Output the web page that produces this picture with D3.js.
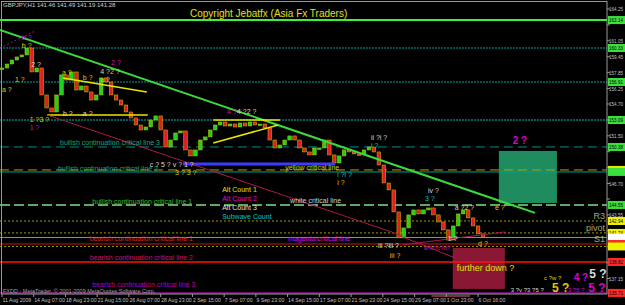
<!DOCTYPE html>
<html>
<head>
<meta charset="utf-8">
<script src="https://cdn.jsdelivr.net/npm/d3@7/dist/d3.min.js"></script>
<style>
  body { margin: 0; background: #000; }
  svg { display: block; }
</style>
</head>
<body>
<div id="chart"></div>
<script>
// GBPJPY H1 - sampled closes, one every 10 bars
var closes = [158.32, 158.72, 159.12, 159.43, 159.63, 160.33, 157.92, 158.32, 155.61, 154.30,
  153.90, 155.61, 157.62, 157.11, 157.92, 156.11, 156.51, 155.91, 155.10, 155.61,
  157.32, 156.91, 155.61, 155.10, 154.60, 153.90, 153.30, 152.59, 152.09, 152.39,
  153.09, 153.50, 152.09, 150.38, 151.08, 151.79, 151.99, 150.08, 149.48, 150.08,
  151.08, 151.39, 152.09, 152.59, 152.89, 152.49, 152.69, 152.39, 152.79, 152.49,
  152.89, 152.59, 152.69, 152.29, 151.08, 150.28, 150.58, 151.08, 151.49, 151.08,
  150.28, 149.88, 149.58, 150.28, 150.28, 151.08, 149.58, 148.77, 149.48, 150.08,
  149.88, 149.68, 149.58, 150.08, 150.38, 149.88, 148.57, 146.76, 146.06, 143.85,
  141.24, 142.24, 143.55, 144.05, 143.65, 144.05, 144.25, 143.55, 142.84, 142.04,
  141.03, 142.44, 143.65, 144.05, 143.25, 142.44, 141.64, 141.28];
var barStep = 10;

var dateLabels = ["11 Aug 2009", "14 Aug 07:00", "18 Aug 23:00", "21 Aug 15:00", "26 Aug 07:00",
  "28 Aug 23:00", "2 Sep 15:00", "7 Sep 07:00", "9 Sep 23:00", "14 Sep 15:00", "17 Sep 07:00",
  "21 Sep 23:00", "24 Sep 15:00", "29 Sep 07:00", "1 Oct 23:00", "6 Oct 16:00"];

var priceTicks = ["164.25", "162.65", "161.05", "159.45", "157.85", "156.25", "154.70", "153.10",
  "151.50", "149.90", "148.30", "146.70", "145.15", "143.55", "141.95", "140.35", "138.75", "137.15"];

// horizontal levels
var levelPrices = [163.14, 160.33, 156.91, 153.09, 150.38, 148.07, 147.87, 144.55,
  142.94, 141.74, 141.28, 140.63, 140.38, 138.82, 135.71];
var levelKinds = ["lime", "tealDot", "tealDot", "tealDotDark", "tealDash", "oliveDash", "teal", "greenDash",
  "oliveDot", "oliveDot", "price", "redThin", "oliveDot", "red", "purple"];

// trend lines: [bar1, price1, bar2, price2, kind]
var trendLines = [
  [0, 162.14, 1079, 143.75, "green"],
  [127, 157.32, 296, 155.91, "yellow"],
  [95, 153.60, 298, 153.60, "yellow"],
  [430, 153.09, 565, 153.09, "yellow"],
  [430, 150.78, 561, 152.59, "yellow"],
  [369, 148.67, 676, 148.67, "blue"],
  [95, 153.60, 807, 141.54, "maroon"],
  [0, 160.33, 71, 162.04, "purpleDot"],
  [811, 140.53, 1018, 141.84, "maroon"],
  [807, 141.44, 918, 139.22, "maroon"]
];

// target boxes: [bar1, bar2, priceTop, priceBottom]
var boxes = [[1006, 1123, 149.98, 144.75], [913, 1018, 140.23, 136.11]];

// line captions: [bar, price, text, colour]
var captions = [
  [121, 150.58, "bullish continuation critical line 3", "#1fa37a"],
  [117, 147.97, "bullish continuation critical line 2", "#22a070"],
  [186, 144.65, "bullish continuation critical line 1", "#2cc02c"],
  [181, 140.93, "bearish continuation critical line 1", "#e02424"],
  [181, 139.02, "bearish continuation critical line 2", "#d0107a"],
  [186, 136.31, "bearish continuation critical line 3", "#b800b0"],
  [575, 148.07, "yellow critical line", "#c0d000"],
  [585, 144.75, "white critical line", "#d0d0d0"],
  [581, 140.93, "magenta critical line", "#e000e0"],
  [448, 145.86, "Alt Count 1", "#e0e000"],
  [448, 144.95, "Alt Count 2", "#e000e0"],
  [448, 144.05, "Alt Count 3", "#e0e0e0"],
  [448, 143.14, "Subwave Count", "#00c0c0"],
  [921, 137.92, "further down ?", "#e0e000"]
];

// wave count labels: [bar, price, text, colour, size]
var waves = [
  [44, 161.13, "b ?", "m", 1], [44, 160.33, "b ?", "y", 1], [63, 158.42, "2 ?", "w", 1],
  [30, 156.91, "1 ?", "y", 1], [4, 155.91, "a ?", "y", 1], [125, 157.62, "a ?", "y", 1],
  [167, 157.11, "b ?", "y", 1], [202, 157.72, "4 ?", "w", 1], [222, 157.72, "2 ?", "y", 1],
  [224, 158.62, "2 ?", "m", 1], [202, 156.91, "a ?", "y", 1], [60, 152.89, "1 ?3 ?", "y", 1],
  [60, 152.09, "1 ?", "m", 1], [127, 153.50, "b ?", "w", 1], [167, 153.50, "a ?", "w", 1],
  [302, 148.37, "c ? 5 ? v ? 1 ?", "w", 1], [353, 147.57, "3 ? 3 ?", "y", 1],
  [458, 153.70, "4 ?", "m", 1], [478, 153.70, "4 ?2 ?", "w", 1],
  [748, 151.08, "ii ?i ?", "w", 1], [748, 150.28, "i ?", "t", 1],
  [680, 147.37, "i ?i ?", "t", 1], [680, 146.56, "i ?", "y", 1],
  [863, 145.76, "iv ?", "w", 1], [857, 144.95, "3 ?", "t", 1],
  [917, 144.05, "a ?2 ?", "w", 1], [998, 144.05, "e ?", "y", 1],
  [903, 140.93, "1 ?", "w", 1], [964, 140.43, "d ?", "y", 1], [855, 140.03, "a?b?c?d?", "m", 0],
  [762, 140.23, "iii ?iii ?", "w", 1], [786, 139.22, "iii ?", "y", 1],
  [1034, 150.68, "2 ?", "m", 2],
  [1030, 135.81, "3 ?v ?3 ?5 ?", "w", 0], [1097, 137.01, "c ?w ?", "y", 0],
  [1113, 135.81, "5 ?", "y", 3], [1145, 135.81, "3 ?5 ?", "m", 0], [1186, 135.81, "5 ?", "m", 3],
  [1157, 136.91, "4 ?", "m", 2], [1188, 137.21, "5 ?", "w", 3]
];

var pivotNames = ["R3", "pivot", "S1"];
var pivotPrices = [142.94, 141.74, 140.63];

// ---- layout / styles ----
var width = 625, height = 305;
var plotRight = 607, plotBottom = 294;

var levelStyle = {
  lime:        {c: "#3cf03c", w: 2,   d: null,  tag: "#3ce03c"},
  tealDot:     {c: "#00a0a0", w: 1,   d: "2,1", tag: "#3ce03c"},
  tealDotDark: {c: "#007a7a", w: 1.5, d: "2,1", tag: "#3ce03c"},
  tealDash:    {c: "#008c8c", w: 1,   d: "9,5", tag: "#3ce03c"},
  oliveDash:   {c: "#a8a800", w: 1,   d: "9,5", tag: "#e8e800"},
  teal:        {c: "#00a0a0", w: 1,   d: null,  tag: "#3ce03c"},
  greenDash:   {c: "#80e080", w: 1.5, d: "10,4", tag: "#3ce03c"},
  oliveDot:    {c: "#9a9a00", w: 1,   d: "2,2", tag: "#f0f000"},
  price:       {c: "#8890a0", w: 1,   d: null,  tag: "#ffffff"},
  redThin:     {c: "#c81818", w: 1,   d: null,  tag: "#ff2a2a"},
  red:         {c: "#ff1010", w: 1.5, d: null,  tag: "#ff2a2a"},
  purple:      {c: "#8a108a", w: 1.5, d: null,  tag: "#ff2a2a"}
};
var trendStyle = {
  green:     {c: "#3cd83c", w: 2,   d: null},
  yellow:    {c: "#e8e800", w: 1.5, d: null},
  blue:      {c: "#3c3cff", w: 3,   d: null},
  maroon:    {c: "#b01848", w: 1,   d: null},
  purpleDot: {c: "#b000b0", w: 1,   d: "2,2"}
};
var waveColor = {w: "#d8d8d8", y: "#e0c800", m: "#d800d8", t: "#00c0c0"};
var waveSize = {0: 6, 1: 7, 2: 10, 3: 12};

var x = d3.scaleLinear().domain([0, 1220]).range([0, 605]);
var y = d3.scaleLinear().domain([135.7, 164.25]).range([293, 9]);

var svg = d3.select("#chart").append("svg")
  .attr("width", width)
  .attr("height", height)
  .style("font-family", "'Liberation Sans', Arial, sans-serif");

svg.append("rect").attr("width", width).attr("height", height).attr("fill", "#000");

var plot = svg.append("g");

// boxes
plot.selectAll("rect.box").data(boxes).enter().append("rect")
  .attr("class", "box")
  .attr("x", function(d) { return x(d[0]); })
  .attr("width", function(d) { return x(d[1]) - x(d[0]); })
  .attr("y", function(d) { return y(d[2]); })
  .attr("height", function(d) { return y(d[3]) - y(d[2]); })
  .attr("fill", function(d, i) { return i == 0 ? "#1e8c5e" : "#8a1834"; });

// horizontal levels
plot.selectAll("line.level").data(levelPrices).enter().append("line")
  .attr("x1", 0).attr("x2", plotRight)
  .attr("y1", function(d) { return y(d); })
  .attr("y2", function(d) { return y(d); })
  .attr("stroke", function(d, i) { return levelStyle[levelKinds[i]].c; })
  .attr("stroke-width", function(d, i) { return levelStyle[levelKinds[i]].w; })
  .attr("stroke-dasharray", function(d, i) { return levelStyle[levelKinds[i]].d; });

// candles
var candleW = 3.6;
plot.selectAll("rect.candle").data(closes).enter().append("rect")
  .attr("x", function(d, i) { return x(i * barStep) - candleW / 2 + 2; })
  .attr("width", candleW)
  .attr("y", function(d, i) {
    var o = i > 0 ? closes[i - 1] : d;
    return y(Math.max(o, d));
  })
  .attr("height", function(d, i) {
    var o = i > 0 ? closes[i - 1] : d;
    return Math.max(1.5, Math.abs(y(o) - y(d)));
  })
  .attr("fill", function(d, i) {
    var o = i > 0 ? closes[i - 1] : d;
    return d >= o ? "#22d022" : "#e02020";
  })
  .attr("stroke", "#c8c800")
  .attr("stroke-width", 0.5);

// trend lines
plot.selectAll("line.trend").data(trendLines).enter().append("line")
  .attr("x1", function(d) { return x(d[0]); })
  .attr("y1", function(d) { return y(d[1]); })
  .attr("x2", function(d) { return x(d[2]); })
  .attr("y2", function(d) { return y(d[3]); })
  .attr("stroke", function(d) { return trendStyle[d[4]].c; })
  .attr("stroke-width", function(d) { return trendStyle[d[4]].w; })
  .attr("stroke-dasharray", function(d) { return trendStyle[d[4]].d; });

// captions
plot.selectAll("text.cap").data(captions).enter().append("text")
  .attr("x", function(d) { return x(d[0]); })
  .attr("y", function(d) { return y(d[1]); })
  .attr("font-size", function(d) { return d[2] == "further down ?" ? 9 : 7; })
  .attr("fill", function(d) { return d[3]; })
  .text(function(d) { return d[2]; });

// wave labels
plot.selectAll("text.wave").data(waves).enter().append("text")
  .attr("x", function(d) { return x(d[0]); })
  .attr("y", function(d) { return y(d[1]); })
  .attr("font-size", function(d) { return waveSize[d[4]]; })
  .attr("font-weight", function(d) { return d[4] > 1 ? "bold" : "normal"; })
  .attr("fill", function(d) { return waveColor[d[3]]; })
  .text(function(d) { return d[2]; });

// pivot names
plot.selectAll("text.piv").data(pivotPrices).enter().append("text")
  .attr("x", plotRight - 2)
  .attr("y", function(d) { return y(d) - 2; })
  .attr("text-anchor", "end")
  .attr("font-size", 9)
  .attr("fill", "#a8a870")
  .text(function(d, i) { return pivotNames[i]; });

// frame
svg.append("rect").attr("x", 1.5).attr("y", 1.5).attr("width", plotRight - 1.5).attr("height", plotBottom - 1.5)
  .attr("fill", "none").attr("stroke", "#9a9a9a").attr("stroke-width", 1);

// right price axis: labels hidden where a price tag covers them
var tagYs = levelPrices.map(function(p) { return y(p); });
var visibleTicks = priceTicks.filter(function(t) {
  return tagYs.every(function(ty) { return Math.abs(ty - y(+t)) > 6; });
});
svg.selectAll("line.tick").data(priceTicks).enter().append("line")
  .attr("x1", plotRight).attr("x2", plotRight + 3)
  .attr("y1", function(d) { return y(+d); })
  .attr("y2", function(d) { return y(+d); })
  .attr("stroke", "#9a9a9a");
svg.selectAll("text.tick").data(visibleTicks).enter().append("text")
  .attr("x", 609)
  .attr("y", function(d) { return y(+d) + 2; })
  .attr("font-size", 5.5)
  .attr("textLength", 14)
  .attr("lengthAdjust", "spacingAndGlyphs")
  .attr("fill", "#c0c0c0")
  .text(function(d) { return d; });

// price tags on the axis (text only where it does not collide with the one above)
var lastTextY = -100;
levelPrices.forEach(function(p, i) {
  var ty = y(p);
  var g = svg.append("g").attr("transform", "translate(" + (plotRight + 1) + "," + (ty - 4) + ")");
  g.append("rect").attr("width", 17).attr("height", 8)
    .attr("fill", levelStyle[levelKinds[i]].tag);
  if (ty - lastTextY >= 8) {
    g.append("text").attr("x", 1).attr("y", 6).attr("font-size", 5)
      .attr("textLength", 14).attr("lengthAdjust", "spacingAndGlyphs")
      .attr("fill", "#000")
      .text(p.toFixed(2));
    lastTextY = ty;
  }
});

// time axis
svg.selectAll("text.date").data(dateLabels).enter().append("text")
  .attr("x", function(d, i) { return x(4 + 64 * i) + 0.5; })
  .attr("y", 302)
  .attr("font-size", 5.2)
  .attr("fill", "#c0c0c0")
  .text(function(d) { return d; });
svg.selectAll("line.date").data(dateLabels).enter().append("line")
  .attr("x1", function(d, i) { return x(4 + 64 * i); })
  .attr("x2", function(d, i) { return x(4 + 64 * i); })
  .attr("y1", plotBottom).attr("y2", plotBottom + 3)
  .attr("stroke", "#9a9a9a");
svg.append("line").attr("x1", x(870)).attr("x2", x(948)).attr("y1", 296).attr("y2", 296)
  .attr("stroke", "#e06080").attr("stroke-width", 1);

// header and credits
svg.append("text").attr("x", 3).attr("y", 7).attr("font-size", 6).attr("fill", "#d0d0d0")
  .text("GBPJPY,H1  141.46 141.49 141.19 141.28");
svg.append("text").attr("x", 190).attr("y", 17).attr("font-size", 10).attr("fill", "#e0e020")
  .text("Copyright Jebatfx (Asia Fx Traders)");
svg.append("text").attr("x", 3).attr("y", 292.5).attr("font-size", 5.5).attr("fill", "#a0a0a0")
  .text("FXDD - MetaTrader, \u00a9 2001-2009 MetaQuotes Software Corp.");
</script>
</body>
</html>
